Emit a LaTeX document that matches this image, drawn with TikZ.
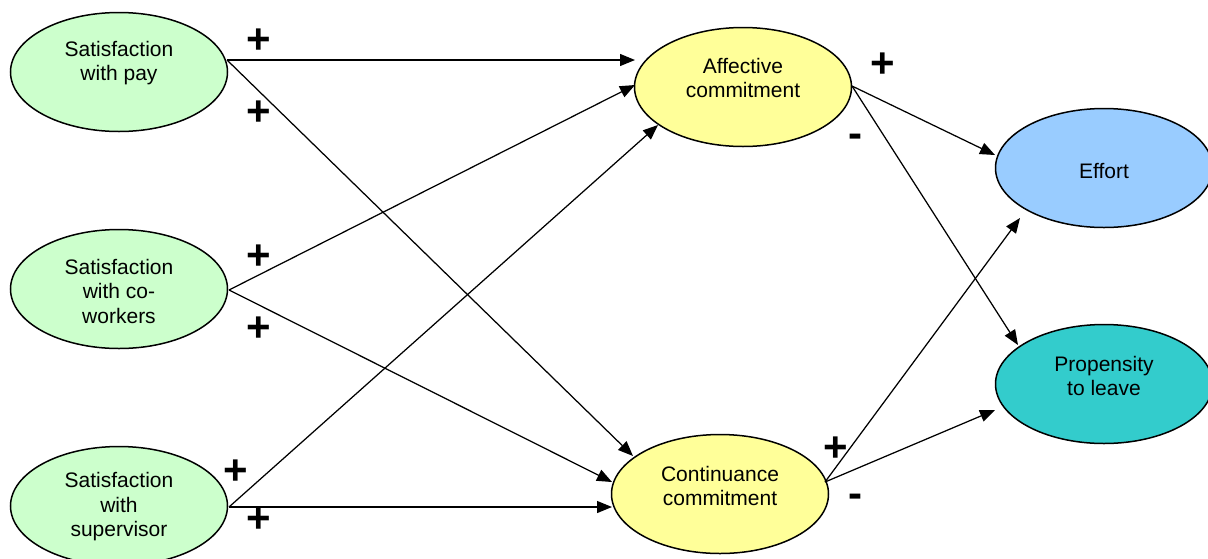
\documentclass[tikz,border=0pt]{standalone}
\usepackage{fontspec}
\setmainfont{Liberation Sans}
\usetikzlibrary{arrows.meta,calc,shapes.geometric}

\definecolor{paleGreen}{HTML}{CCFFCC}
\definecolor{paleYellow}{HTML}{FFFF99}
\definecolor{skyBlue}{HTML}{99CCFF}
\definecolor{tealFill}{HTML}{33CCCC}

\tikzset{
  ell/.style={ellipse, draw=black, line width=1.5pt, inner sep=0pt,
              minimum width=217pt, minimum height=119pt},
  lbl/.style={align=center, font=\fontsize{21}{24.5}\selectfont, inner sep=0pt},
  sgn/.style={font=\fontsize{42}{42}\selectfont\bfseries, inner sep=0pt},
  link/.style={line width=1.25pt, -{Triangle[length=15pt,width=12pt]}},
}

\begin{document}
\begin{tikzpicture}[x=1pt,y=-1pt]
  \useasboundingbox (0,0) rectangle (1208,558);

  % construct ellipses
  \node[ell, fill=paleGreen]  (pay)  at (119,72)  {};
  \node[ell, fill=paleGreen]  (cow)  at (119,289) {};
  \node[ell, fill=paleGreen]  (sup)  at (119,506) {};
  \node[ell, fill=paleYellow] (aff)  at (743,87)  {};
  \node[ell, fill=paleYellow] (cont) at (720,494) {};
  \node[ell, fill=skyBlue]    (eff)  at (1104,168) {};
  \node[ell, fill=tealFill]   (prop) at (1104,384) {};

  % their labels, set toward the top of each ellipse
  \node[lbl] (payT)  at (119,63)  {Satisfaction\\with pay};
  \node[lbl] (cowT)  at (119,291) {Satisfaction\\with co-\\workers};
  \node[lbl] (supT)  at (119,507) {Satisfaction\\with\\supervisor};
  \node[lbl] (affT)  at (743,78)  {Affective\\commitment};
  \node[lbl] (contT) at (720,486) {Continuance\\commitment};
  \node[lbl] (effT)  at (1104,171) {Effort};
  \node[lbl] (propT) at (1104,376) {Propensity\\to leave};

  % paths
  \draw[link] ($(pay.center)+(108,-12)$) -- ($(aff.center)+(-108,-27)$);
  \draw[link] ($(pay.center)+(108,-12)$) -- ($(cont.center)+(-87,-38)$);
  \draw[link] ($(cow.center)+(110,1)$)   -- ($(aff.center)+(-108,-2)$);
  \draw[link] ($(cow.center)+(110,1)$)   -- ($(cont.center)+(-108,-12)$);
  \draw[link] ($(sup.center)+(110,1)$)   -- ($(aff.center)+(-85,38)$);
  \draw[link] ($(sup.center)+(110,1)$)   -- ($(cont.center)+(-108,13)$);
  \draw[link] ($(aff.center)+(109,-1)$)  -- ($(eff.center)+(-109,-13)$);
  \draw[link] ($(aff.center)+(109,-1)$)  -- ($(prop.center)+(-86,-39)$);
  \draw[link] ($(cont.center)+(105,-12)$) -- ($(eff.center)+(-84,50)$);
  \draw[link] ($(cont.center)+(105,-12)$) -- ($(prop.center)+(-109,26)$);

  % signs on the paths
  \node[sgn] (s1)  at (259,41)  {+};
  \node[sgn] (s2)  at (259,113) {+};
  \node[sgn] (s3)  at (259,257) {+};
  \node[sgn] (s4)  at (259,329) {+};
  \node[sgn] (s5)  at (236,472) {+};
  \node[sgn] (s6)  at (259,520) {+};
  \node[sgn] (s7)  at (883,65)  {+};
  \node[sgn] (s8)  at (855,141) {-};
  \node[sgn] (s9)  at (836,449) {+};
  \node[sgn] (s10) at (855,501) {-};
\end{tikzpicture}
\end{document}
